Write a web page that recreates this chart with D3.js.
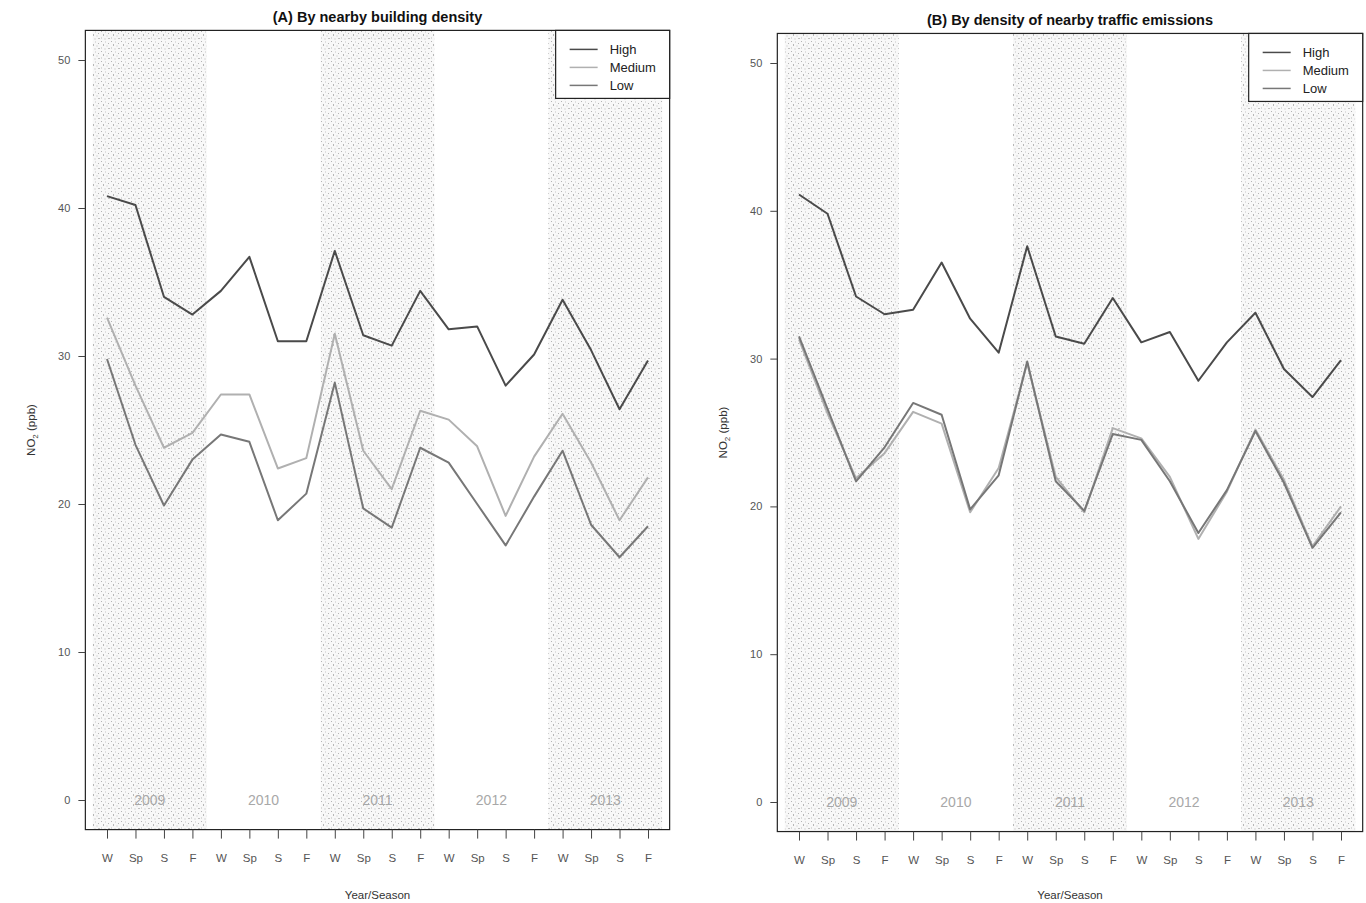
<!DOCTYPE html>
<html>
<head>
    <meta charset="utf-8">
    <title>NO2 by Year/Season</title>
    <style>
        html, body {
            margin: 0;
            padding: 0;
            background: white;
            font-family: 'Liberation Sans', Arial, sans-serif;
        }
    </style>
</head>
<body>
    <svg id="chart" width="1366" height="903"></svg>
    <script src="https://cdnjs.cloudflare.com/ajax/libs/d3/7.8.5/d3.min.js"></script>
    <script>
        // data
        const seasons = ["W", "Sp", "S", "F"];
        const years = ["2009", "2010", "2011", "2012", "2013"];
        const groups = ["High", "Medium", "Low"];
        const yTicks = [0, 10, 20, 30, 40, 50];

        const highA = [40.8, 40.2, 34.0, 32.8, 34.4, 36.7, 31.0, 31.0, 37.1, 31.4, 30.7, 34.4, 31.8, 32.0, 28.0, 30.1, 33.8, 30.4, 26.4, 29.7];
        const mediumA = [32.6, 28.0, 23.8, 24.8, 27.4, 27.4, 22.4, 23.1, 31.5, 23.6, 21.0, 26.3, 25.7, 23.9, 19.2, 23.2, 26.1, 22.8, 18.9, 21.8];
        const lowA = [29.8, 24.0, 19.9, 23.0, 24.7, 24.2, 18.9, 20.7, 28.2, 19.7, 18.4, 23.8, 22.8, 20.0, 17.2, 20.5, 23.6, 18.6, 16.4, 18.5];

        const highB = [41.1, 39.8, 34.2, 33.0, 33.3, 36.5, 32.7, 30.4, 37.6, 31.5, 31.0, 34.1, 31.1, 31.8, 28.5, 31.1, 33.1, 29.3, 27.4, 29.9];
        const mediumB = [31.3, 26.3, 21.9, 23.6, 26.4, 25.6, 19.6, 22.6, 29.7, 22.0, 19.6, 25.3, 24.6, 22.0, 17.8, 21.0, 25.2, 21.8, 17.3, 20.0];
        const lowB = [31.5, 26.6, 21.7, 24.0, 27.0, 26.2, 19.8, 22.1, 29.8, 21.7, 19.7, 24.9, 24.5, 21.7, 18.2, 21.1, 25.1, 21.6, 17.2, 19.6];

        const lineColor = { High: "#4a4a4a", Medium: "#b0b0b0", Low: "#777777" };
        const font = "'Liberation Sans', Arial, sans-serif";

        const svg = d3.select("#chart");

        // stipple pattern for the shaded years
        const defs = svg.append("defs");
        const pat = defs.append("pattern")
            .attr("id", "stipple")
            .attr("patternUnits", "userSpaceOnUse")
            .attr("width", 10)
            .attr("height", 10);
        pat.append("rect").attr("width", 10).attr("height", 10).attr("fill", "#f8f8f8");
        [[1, 1, "#b4b4b4"], [5, 1.5, "#c4c4c4"], [8, 3, "#b4b4b4"], [3, 4.5, "#777"], [6.5, 5.5, "#c0c0c0"],
         [1, 7.5, "#bcbcbc"], [4.5, 8.5, "#b4b4b4"], [8.5, 8, "#888"]].forEach(([cx, cy, c]) => {
            pat.append("rect").attr("x", cx).attr("y", cy).attr("width", 1).attr("height", 1).attr("fill", c);
        });

        const panels = [
            {
                title: "(A) By nearby building density",
                x1: 107, x20: 648, y0: 800, y50: 60,
                series: { High: highA, Medium: mediumA, Low: lowA }
            },
            {
                title: "(B) By density of nearby traffic emissions",
                x1: 799, x20: 1341, y0: 802, y50: 63,
                series: { High: highB, Medium: mediumB, Low: lowB }
            }
        ];

        panels.forEach(p => drawPanel(p));

        function drawPanel(p) {
            const x = d3.scaleLinear().domain([1, 20]).range([p.x1, p.x20]);
            const y = d3.scaleLinear().domain([0, 50]).range([p.y0, p.y50]);
            // R style 4% padding
            const left = x(0.24), right = x(20.76);
            const top = y(52), bottom = y(-2);
            const g = svg.append("g");

            // shaded bands for 2009, 2011, 2013
            years.forEach((yr, i) => {
                const a = Math.max(left, x(i * 4 + 0.5));
                const b = Math.min(right, x(i * 4 + 4.5));
                if (i % 2 === 0) {
                    g.append("rect")
                        .attr("x", a).attr("y", top)
                        .attr("width", b - a).attr("height", bottom - top)
                        .attr("fill", "url(#stipple)");
                }
                g.append("text")
                    .attr("x", x(i * 4 + 2.5))
                    .attr("y", y(0))
                    .attr("dy", "0.35em")
                    .attr("text-anchor", "middle")
                    .attr("font-size", 14)
                    .attr("fill", "#a8a8a8")
                    .text(yr);
            });

            // lines
            const line = d3.line().x((d, i) => x(i + 1)).y(d => y(d));
            groups.forEach(k => {
                g.append("path")
                    .datum(p.series[k])
                    .attr("d", line)
                    .attr("fill", "none")
                    .attr("stroke", lineColor[k])
                    .attr("stroke-width", 2)
                    .attr("stroke-linejoin", "round");
            });

            // box
            g.append("rect")
                .attr("x", left).attr("y", top)
                .attr("width", right - left).attr("height", bottom - top)
                .attr("fill", "none").attr("stroke", "#222").attr("stroke-width", 1.2);

            // y axis
            const yAxis = d3.axisLeft(y).tickValues(yTicks).tickSize(7).tickPadding(8);
            const ya = g.append("g").attr("transform", `translate(${left},0)`).call(yAxis);
            ya.select(".domain").remove();
            ya.selectAll("text").attr("font-size", 11).attr("fill", "#555").attr("font-family", font);
            ya.selectAll("line").attr("stroke", "#444");

            // x axis
            const labels = d3.range(20).map(i => seasons[i % 4]);
            const xAxis = d3.axisBottom(x).tickValues(d3.range(1, 21))
                .tickFormat(d => labels[d - 1]).tickSize(9).tickPadding(15);
            const xa = g.append("g").attr("transform", `translate(0,${bottom})`).call(xAxis);
            xa.select(".domain").remove();
            xa.selectAll("text").attr("font-size", 11.5).attr("fill", "#555").attr("font-family", font);
            xa.selectAll("line").attr("stroke", "#444");

            const cx = (left + right) / 2;
            // title
            g.append("text")
                .attr("x", cx).attr("y", top - 8)
                .attr("text-anchor", "middle")
                .attr("font-size", 14.5).attr("font-weight", "bold").attr("fill", "#111")
                .text(p.title);

            // x label
            g.append("text")
                .attr("x", cx).attr("y", 899)
                .attr("text-anchor", "middle")
                .attr("font-size", 11.5).attr("fill", "#333")
                .text("Year/Season");

            // y label
            const yl = g.append("text")
                .attr("transform", `translate(${left - 50},${(top + bottom) / 2}) rotate(-90)`)
                .attr("text-anchor", "middle")
                .attr("font-size", 11.5).attr("fill", "#333");
            yl.append("tspan").text("NO");
            yl.append("tspan").attr("font-size", 8).attr("dy", 3).text("2");
            yl.append("tspan").attr("dy", -3).text(" (ppb)");

            // legend
            const lw = 114, lh = 68;
            const lg = g.append("g").attr("transform", `translate(${right - lw},${top})`);
            lg.append("rect").attr("width", lw).attr("height", lh)
                .attr("fill", "white").attr("stroke", "#222").attr("stroke-width", 1.2);
            groups.forEach((k, i) => {
                const ly = 19 + i * 18;
                lg.append("line")
                    .attr("x1", 14).attr("x2", 42).attr("y1", ly).attr("y2", ly)
                    .attr("stroke", lineColor[k]).attr("stroke-width", 1.5);
                lg.append("text")
                    .attr("x", 54).attr("y", ly).attr("dy", "0.35em")
                    .attr("font-size", 13).attr("fill", "#222")
                    .text(k);
            });
        }
    </script>
</body>
</html>
